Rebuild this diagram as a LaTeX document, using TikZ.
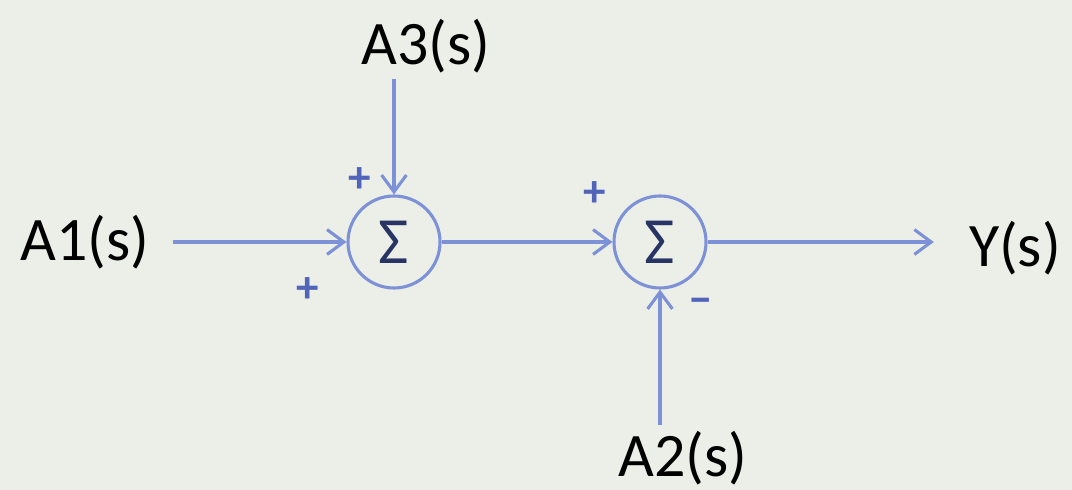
\documentclass[tikz,border=0pt]{standalone}
\usepackage{fontspec}
\setmainfont{Carlito}
\usetikzlibrary{arrows.meta}
\definecolor{bgcol}{RGB}{236,238,232}
\definecolor{linecol}{RGB}{124,145,214}
\definecolor{signcol}{RGB}{80,100,185}
\definecolor{sigmacol}{RGB}{40,52,100}
\tikzset{
  sumnode/.style={draw=linecol, line width=2.2pt, circle, minimum size=2.3cm, inner sep=0pt,
    text=sigmacol, font=\fontsize{47}{56}\selectfont},
  sig/.style={draw=linecol, line width=2.2pt, -{Straight Barb[length=0.42cm,width=0.62cm,line width=2.2pt]}},
  signal/.style={inner sep=0pt, font=\fontsize{44}{52}\selectfont},
  sign/.style={inner sep=0pt, text=signcol, font=\fontsize{32}{38}\selectfont\bfseries}
}
\begin{document}
\begin{tikzpicture}
\fill[bgcol] (0,0) rectangle (26.8,12.25);
\useasboundingbox (0,0) rectangle (26.8,12.25);
\node[sumnode] (S1) at (9.85,6.2) {Σ};
\node[sumnode] (S2) at (16.5,6.2) {Σ};
\node[signal] (A1) at (2.125,6.2) {A1(s)};
\node[signal] (A3) at (10.65,11.1) {A3(s)};
\node[signal] (A2) at (17.075,0.8) {A2(s)};
\node[signal] (Y) at (25.375,6.05) {Y(s)};
\node[sign] (P1) at (9.0,7.75) {+};
\node[sign] (P2) at (7.7,5.0) {+};
\node[sign] (P3) at (14.875,7.4) {+};
\node[sign] (M1) at (17.525,4.6) {−};
\draw[sig, shorten <=0.575cm] (A1) -- (S1);
\draw[sig, shorten <=0.15cm] (A3.south -| S1) -- (S1);
\draw[sig] (S1) -- (S2);
\draw[sig, shorten >=0.875cm] (S2) -- (S2 -| Y.west);
\draw[sig, shorten <=0.15cm] (A2.north -| S2) -- (S2);
\end{tikzpicture}
\end{document}
